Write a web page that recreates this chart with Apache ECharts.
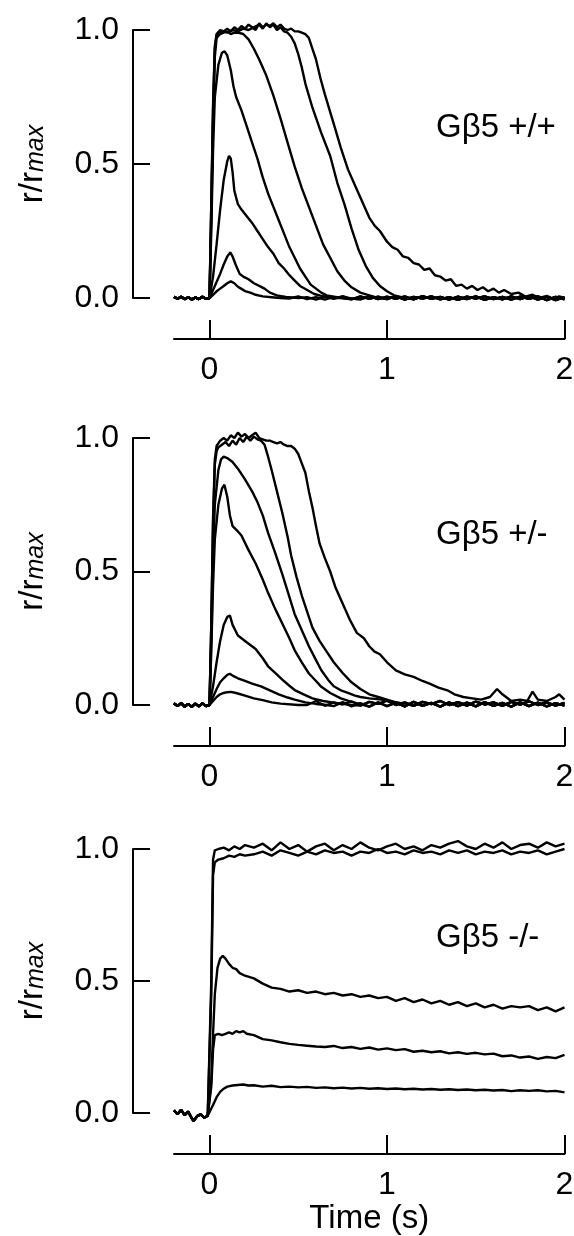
<!DOCTYPE html>
<html>
<head>
<meta charset="utf-8">
<script src="https://cdn.jsdelivr.net/npm/echarts@6/dist/echarts.min.js"></script>
<style>
html,body{margin:0;padding:0;background:#fff;}
#chart{width:574px;height:1236px;}
</style>
</head>
<body>
<div id="chart"></div>
<script>
// ---------- tick labels / panel labels ----------
var xTickValues = [0, 1, 2];
var panelLabels = ['G\u03b25 +/+', 'G\u03b25 +/-', 'G\u03b25 -/-'];
var xAxisName = 'Time (s)';

// ---------- shared baselines (t<0) ----------
var base1 = [[-0.2,0.004],[-0.18,-0.003],[-0.16,0.005],[-0.14,-0.004],[-0.12,0.003],[-0.10,-0.006],[-0.08,0.002],[-0.06,-0.004],[-0.04,0.005],[-0.02,-0.003],[-0.01,0.002]];
var base2 = [[-0.2,0.006],[-0.18,-0.004],[-0.16,0.007],[-0.14,-0.006],[-0.12,0.004],[-0.10,-0.007],[-0.08,0.005],[-0.06,-0.005],[-0.04,0.006],[-0.02,-0.004],[-0.01,0.003]];
var base3 = [[-0.2,0.01],[-0.18,-0.005],[-0.16,0.012],[-0.14,-0.008],[-0.12,0.005],[-0.10,-0.02],[-0.09,-0.03],[-0.07,-0.012],[-0.05,-0.005],[-0.03,-0.018],[-0.02,-0.025],[-0.01,-0.01]];

// ---------- recovered-baseline tails (panels 1,2) ----------
var tailT = [0.30,0.35,0.40,0.45,0.50,0.55,0.60,0.65,0.70,0.75,0.80,0.85,0.90,0.95,1.00,1.05,1.10,1.15,1.20,1.25,1.30,1.35,1.40,1.45,1.50,1.55,1.60,1.65,1.70,1.75,1.80,1.85,1.90,1.95,2.00];
var tailV1a = [0.004,-0.003,0.005,-0.002,0.006,-0.004,0.003,-0.006,0.004,0.0,-0.005,0.006,-0.003,0.005,-0.004,0.007,-0.006,0.004,-0.002,0.006,-0.005,0.003,-0.007,0.005,-0.002,0.006,-0.004,0.004,-0.006,0.005,-0.003,0.006,-0.008,0.004,-0.005];
var tailV1b = [-0.004,0.005,-0.002,0.006,-0.005,0.003,-0.006,0.004,-0.003,0.007,-0.002,-0.005,0.006,-0.004,0.005,-0.003,0.006,-0.005,0.007,-0.003,0.004,-0.006,0.005,-0.004,0.006,-0.007,0.003,-0.005,0.006,-0.004,0.007,-0.006,0.005,-0.008,0.003];
var tailV2a = [0.006,-0.004,0.01,-0.002,0.012,0.0,0.015,-0.003,0.01,0.002,0.014,-0.002,0.012,0.004,0.016,0.0,0.01,-0.003,0.012,0.003,0.015,0.0,0.011,-0.002,0.013,0.002,0.01,-0.003,0.012,0.001,0.014,0.0,0.01,-0.002,0.008];
var tailV2b = [-0.003,0.008,-0.005,0.01,-0.004,0.009,-0.006,0.008,-0.004,0.011,-0.005,0.007,-0.006,0.01,-0.004,0.009,-0.005,0.012,-0.003,0.008,-0.006,0.01,-0.004,0.009,-0.005,0.011,-0.003,0.008,-0.006,0.01,-0.004,0.009,-0.005,0.007,-0.002];

// ---------- Panel 1: Gb5 +/+ ----------
var wtA = [[0,0],[0.02,0.012],[0.04,0.025],[0.06,0.035],[0.08,0.045],[0.1,0.055],[0.12,0.062],[0.14,0.055],[0.16,0.042],[0.18,0.034],[0.2,0.026],[0.23,0.02],[0.26,0.012],[0.3,0.006],[0.35,0.003],[0.4,0.0]];
var wtB = [[0,0],[0.02,0.03],[0.04,0.06],[0.06,0.09],[0.08,0.125],[0.10,0.155],[0.117,0.17],[0.13,0.155],[0.15,0.12],[0.17,0.09],[0.19,0.08],[0.22,0.07],[0.25,0.055],[0.28,0.045],[0.31,0.035],[0.34,0.02],[0.38,0.01],[0.43,0.004],[0.5,0.0]];
var wtC = [[0,0],[0.02,0.08],[0.04,0.2],[0.06,0.33],[0.08,0.44],[0.10,0.51],[0.11,0.53],[0.12,0.52],[0.13,0.47],[0.14,0.40],[0.16,0.35],[0.18,0.33],[0.21,0.305],[0.24,0.28],[0.27,0.25],[0.30,0.22],[0.33,0.19],[0.36,0.165],[0.39,0.13],[0.42,0.11],[0.45,0.085],[0.48,0.065],[0.51,0.045],[0.55,0.03],[0.59,0.015],[0.63,0.008],[0.7,0.0]];
var wtD = [[0,0],[0.01,0.25],[0.02,0.55],[0.03,0.75],[0.05,0.87],[0.07,0.915],[0.085,0.92],[0.10,0.905],[0.12,0.85],[0.135,0.79],[0.15,0.75],[0.18,0.70],[0.21,0.64],[0.24,0.58],[0.27,0.52],[0.30,0.45],[0.33,0.39],[0.36,0.34],[0.39,0.29],[0.42,0.24],[0.45,0.19],[0.48,0.15],[0.51,0.11],[0.54,0.08],[0.57,0.05],[0.60,0.035],[0.63,0.02],[0.66,0.01],[0.70,0.005],[0.75,0.0]];
var wtE = [[0,0],[0.01,0.3],[0.02,0.65],[0.03,0.9],[0.04,0.97],[0.06,0.985],[0.08,0.99],[0.10,0.995],[0.12,0.985],[0.14,0.99],[0.16,0.99],[0.19,0.985],[0.22,0.965],[0.25,0.93],[0.28,0.89],[0.32,0.83],[0.36,0.755],[0.40,0.67],[0.44,0.58],[0.48,0.49],[0.52,0.41],[0.56,0.34],[0.60,0.27],[0.64,0.2],[0.68,0.15],[0.72,0.1],[0.76,0.065],[0.80,0.04],[0.85,0.02],[0.9,0.01],[0.95,0.0]];
var wtF = [[0,0],[0.01,0.35],[0.02,0.7],[0.03,0.93],[0.04,0.98],[0.06,0.99],[0.08,0.995],[0.10,0.99],[0.13,1.0],[0.16,0.995],[0.19,1.005],[0.22,1.0],[0.25,1.01],[0.28,1.02],[0.30,1.005],[0.32,1.025],[0.34,1.01],[0.36,1.02],[0.38,1.0],[0.40,1.01],[0.42,0.995],[0.44,0.99],[0.46,0.975],[0.48,0.95],[0.50,0.91],[0.52,0.86],[0.54,0.80],[0.58,0.71],[0.63,0.615],[0.68,0.53],[0.72,0.43],[0.76,0.35],[0.80,0.26],[0.84,0.18],[0.88,0.12],[0.92,0.075],[0.96,0.045],[1.0,0.025],[1.04,0.01],[1.1,0.0]];
var wtG = [[0,0],[0.01,0.35],[0.02,0.72],[0.03,0.94],[0.04,0.985],[0.06,1.0],[0.08,0.995],[0.10,1.005],[0.12,0.995],[0.14,1.01],[0.16,1.0],[0.18,1.015],[0.20,1.005],[0.22,1.02],[0.24,1.01],[0.26,1.0],[0.28,1.025],[0.30,1.01],[0.32,1.02],[0.34,1.015],[0.36,1.025],[0.38,1.01],[0.40,1.02],[0.42,1.005],[0.44,1.0],[0.46,1.005],[0.48,0.995],[0.50,0.995],[0.52,0.99],[0.54,0.985],[0.56,0.97],[0.58,0.93],[0.60,0.89],[0.625,0.82],[0.65,0.76],[0.70,0.65],[0.74,0.56],[0.78,0.48],[0.82,0.42],[0.86,0.36],[0.90,0.30],[0.93,0.27],[0.96,0.25],[1.0,0.21],[1.03,0.19],[1.06,0.18],[1.09,0.155],[1.12,0.15],[1.15,0.13],[1.18,0.125],[1.21,0.105],[1.24,0.11],[1.27,0.085],[1.30,0.08],[1.33,0.065],[1.36,0.07],[1.39,0.045],[1.42,0.05],[1.45,0.035],[1.48,0.045],[1.51,0.03],[1.54,0.04],[1.57,0.025],[1.60,0.035],[1.63,0.02],[1.66,0.03],[1.70,0.015],[1.74,0.02],[1.78,0.005],[1.82,0.012],[1.86,0.0],[1.90,0.008],[1.94,-0.004],[1.97,0.006],[2.0,0.0]];

// ---------- Panel 2: Gb5 +/- ----------
var hetA = [[0,0],[0.02,0.015],[0.04,0.03],[0.06,0.04],[0.08,0.045],[0.1,0.048],[0.12,0.049],[0.15,0.045],[0.2,0.035],[0.25,0.025],[0.3,0.018],[0.35,0.01],[0.4,0.005],[0.5,0.0]];
var hetB = [[0,0],[0.02,0.03],[0.04,0.06],[0.06,0.085],[0.08,0.10],[0.1,0.113],[0.115,0.117],[0.13,0.11],[0.16,0.10],[0.2,0.09],[0.24,0.08],[0.29,0.07],[0.34,0.055],[0.39,0.04],[0.44,0.028],[0.48,0.02],[0.54,0.01],[0.6,0.004],[0.66,0.0]];
var hetC = [[0,0],[0.02,0.07],[0.04,0.16],[0.06,0.24],[0.08,0.30],[0.1,0.33],[0.115,0.335],[0.13,0.3],[0.16,0.26],[0.2,0.24],[0.26,0.21],[0.3,0.175],[0.33,0.145],[0.37,0.12],[0.41,0.095],[0.45,0.072],[0.48,0.056],[0.53,0.04],[0.58,0.025],[0.64,0.015],[0.71,0.008],[0.8,0.0]];
var hetD = [[0,0],[0.01,0.2],[0.02,0.45],[0.03,0.62],[0.05,0.75],[0.07,0.81],[0.084,0.825],[0.1,0.78],[0.115,0.71],[0.13,0.67],[0.16,0.65],[0.18,0.635],[0.22,0.58],[0.26,0.53],[0.3,0.47],[0.33,0.42],[0.37,0.36],[0.41,0.305],[0.45,0.25],[0.48,0.205],[0.52,0.16],[0.56,0.118],[0.6,0.09],[0.63,0.068],[0.68,0.045],[0.74,0.025],[0.8,0.012],[0.87,0.0]];
var hetE = [[0,0],[0.01,0.25],[0.02,0.55],[0.03,0.75],[0.05,0.88],[0.065,0.92],[0.08,0.93],[0.1,0.925],[0.13,0.91],[0.16,0.885],[0.2,0.845],[0.24,0.8],[0.27,0.76],[0.3,0.71],[0.33,0.645],[0.37,0.57],[0.41,0.49],[0.45,0.405],[0.48,0.34],[0.52,0.28],[0.56,0.22],[0.6,0.168],[0.63,0.13],[0.67,0.093],[0.7,0.07],[0.74,0.055],[0.78,0.045],[0.82,0.035],[0.85,0.03],[0.9,0.025],[0.97,0.02],[1.03,0.012],[1.1,0.005]];
var hetF = [[0,0],[0.01,0.3],[0.02,0.68],[0.03,0.9],[0.04,0.95],[0.05,0.965],[0.07,0.975],[0.09,0.985],[0.11,0.97],[0.13,0.99],[0.15,0.975],[0.17,1.0],[0.19,0.985],[0.21,1.005],[0.23,0.99],[0.25,1.005],[0.27,0.995],[0.29,0.99],[0.31,0.975],[0.33,0.93],[0.35,0.88],[0.38,0.8],[0.41,0.72],[0.44,0.63],[0.46,0.56],[0.49,0.48],[0.52,0.41],[0.55,0.35],[0.58,0.29],[0.62,0.24],[0.66,0.2],[0.7,0.16],[0.75,0.12],[0.8,0.085],[0.85,0.06],[0.9,0.04],[0.95,0.03],[1.0,0.02],[1.05,0.01]];
var hetG = [[0,0],[0.01,0.3],[0.02,0.7],[0.03,0.92],[0.04,0.97],[0.06,0.99],[0.08,1.0],[0.10,0.99],[0.12,1.01],[0.14,1.0],[0.16,1.02],[0.18,1.005],[0.2,1.015],[0.22,1.0],[0.24,1.01],[0.26,1.02],[0.28,1.0],[0.3,0.995],[0.32,0.99],[0.34,0.99],[0.36,0.985],[0.38,0.98],[0.40,0.985],[0.42,0.975],[0.44,0.97],[0.46,0.97],[0.48,0.96],[0.5,0.94],[0.52,0.905],[0.54,0.87],[0.56,0.8],[0.58,0.74],[0.6,0.67],[0.62,0.605],[0.65,0.55],[0.68,0.5],[0.71,0.44],[0.75,0.38],[0.79,0.32],[0.83,0.27],[0.87,0.25],[0.9,0.22],[0.93,0.2],[0.96,0.19],[1.0,0.16],[1.05,0.13],[1.1,0.115],[1.15,0.105],[1.2,0.09],[1.24,0.08],[1.29,0.065],[1.34,0.055],[1.38,0.04],[1.43,0.03],[1.48,0.025],[1.53,0.02],[1.58,0.03],[1.62,0.06],[1.65,0.04],[1.7,0.015],[1.75,0.02],[1.79,0.015],[1.82,0.05],[1.85,0.02],[1.9,0.015],[1.95,0.03],[1.97,0.04],[2.0,0.02]];

// ---------- Panel 3: Gb5 -/- ----------
var koHead1 = [[0.0,-0.01],[0.01,0.5],[0.02,0.96],[0.03,0.995],[0.05,1.0],[0.08,1.005],[0.11,0.995],[0.14,1.01],[0.17,1.0],[0.2,1.015]];
var koHead2 = [[0.0,-0.015],[0.01,0.45],[0.02,0.9],[0.03,0.95],[0.05,0.96],[0.08,0.965],[0.11,0.975],[0.14,0.97],[0.17,0.98],[0.2,0.975]];
var koHead3 = [[0.0,-0.01],[0.01,0.12],[0.02,0.3],[0.03,0.45],[0.045,0.55],[0.06,0.585],[0.075,0.595],[0.09,0.585],[0.11,0.565],[0.13,0.55],[0.15,0.545],[0.17,0.53],[0.2,0.52]];
var koHead4 = [[0.0,-0.01],[0.01,0.1],[0.02,0.24],[0.03,0.295],[0.05,0.3],[0.07,0.295],[0.09,0.3],[0.11,0.305],[0.13,0.3],[0.15,0.31],[0.17,0.305],[0.19,0.31],[0.21,0.3]];
var koHead5 = [[0.0,-0.005],[0.02,0.03],[0.04,0.06],[0.06,0.08],[0.08,0.092],[0.1,0.1],[0.13,0.104],[0.16,0.106],[0.19,0.108],[0.22,0.104]];
var koT = [0.25,0.30,0.35,0.40,0.45,0.50,0.55,0.60,0.65,0.70,0.75,0.80,0.85,0.90,0.95,1.00,1.05,1.10,1.15,1.20,1.25,1.30,1.35,1.40,1.45,1.50,1.55,1.60,1.65,1.70,1.75,1.80,1.85,1.90,1.95,2.00];
var koV1 = [1.005,1.02,0.995,1.025,1.0,1.015,0.99,1.01,1.02,0.995,1.015,1.0,1.025,1.005,0.995,1.01,1.02,1.0,1.01,0.995,1.015,1.005,1.02,1.03,1.01,1.0,1.02,1.005,1.025,1.0,1.015,1.02,1.005,1.025,1.01,1.02];
var koV2 = [0.98,0.99,0.975,0.995,0.985,0.975,0.99,0.98,0.995,0.985,0.99,0.975,0.99,0.985,1.0,0.985,0.99,0.98,0.995,0.985,0.99,0.98,0.995,0.985,0.995,0.98,0.99,0.985,0.995,0.98,0.99,0.985,0.995,0.98,0.99,1.0];
var koV3 = [0.51,0.49,0.475,0.47,0.46,0.465,0.455,0.46,0.45,0.455,0.445,0.45,0.44,0.445,0.435,0.44,0.425,0.435,0.42,0.43,0.415,0.425,0.41,0.42,0.405,0.415,0.4,0.41,0.395,0.405,0.4,0.405,0.39,0.4,0.385,0.4];
var koV4 = [0.295,0.28,0.275,0.268,0.262,0.258,0.255,0.252,0.25,0.254,0.246,0.25,0.243,0.248,0.24,0.245,0.238,0.242,0.232,0.236,0.23,0.234,0.226,0.23,0.224,0.228,0.222,0.225,0.215,0.218,0.21,0.214,0.205,0.212,0.208,0.22];
var koV5 = [0.105,0.1,0.103,0.098,0.1,0.097,0.099,0.095,0.097,0.094,0.096,0.093,0.095,0.092,0.094,0.091,0.093,0.09,0.092,0.089,0.091,0.088,0.09,0.087,0.089,0.086,0.088,0.085,0.087,0.083,0.086,0.084,0.086,0.082,0.084,0.078];

// ---------- assemble traces ----------
function withTail(base, head, tT, tV) {
  var out = base.concat(head);
  var last = head[head.length - 1][0];
  if (tT) {
    for (var i = 0; i < tT.length; i++) {
      if (tT[i] > last + 1e-9) out.push([tT[i], tV[i]]);
    }
  }
  return out;
}
var panelTraces = [
  [withTail(base1, wtA, tailT, tailV1a), withTail(base1, wtB, tailT, tailV1b), withTail(base1, wtC, tailT, tailV1a),
   withTail(base1, wtD, tailT, tailV1b), withTail(base1, wtE, tailT, tailV1a), withTail(base1, wtF, tailT, tailV1b),
   withTail(base1, wtG, null, null)],
  [withTail(base2, hetA, tailT, tailV2a), withTail(base2, hetB, tailT, tailV2b), withTail(base2, hetC, tailT, tailV2a),
   withTail(base2, hetD, tailT, tailV2b), withTail(base2, hetE, tailT, tailV2a), withTail(base2, hetF, tailT, tailV2b),
   withTail(base2, hetG, null, null)],
  [withTail(base3, koHead1, koT, koV1), withTail(base3, koHead2, koT, koV2), withTail(base3, koHead3, koT, koV3),
   withTail(base3, koHead4, koT, koV4), withTail(base3, koHead5, koT, koV5)]
];

// ---------- layout ----------
var FONT = '"Liberation Sans", Arial, Helvetica, sans-serif';
var gridBoxes = [{top: 30, height: 268}, {top: 438, height: 267}, {top: 849, height: 264}];
var labelTops = [111, 518, 921];

var grids = [], xAxes = [], yAxes = [], series = [], titles = [];
for (var p = 0; p < 3; p++) {
  grids.push({left: 174, width: 390.5, top: gridBoxes[p].top, height: gridBoxes[p].height,
              containLabel: false, outerBoundsMode: 'none'});
  xAxes.push({
    gridIndex: p, type: 'value', min: -0.2, max: 2, position: 'bottom', offset: 41,
    axisLine: {show: true, onZero: false, lineStyle: {color: '#000', width: 2}},
    axisTick: {show: true, inside: true, length: 19, customValues: xTickValues, lineStyle: {color: '#000', width: 2}},
    axisLabel: {show: true, customValues: xTickValues, margin: 15, fontSize: 32, color: '#000', fontFamily: FONT,
                formatter: function (v) { return String(Math.round(v)); }},
    splitLine: {show: false},
    name: p === 2 ? xAxisName : '', nameLocation: 'middle', nameGap: 48,
    nameTextStyle: {fontSize: 33, color: '#000', fontFamily: FONT}
  });
  yAxes.push({
    gridIndex: p, type: 'value', min: 0, max: 1, interval: 0.5, position: 'left', offset: 41,
    axisLine: {show: true, onZero: false, lineStyle: {color: '#000', width: 2}},
    axisTick: {show: true, inside: true, length: 17, lineStyle: {color: '#000', width: 2}},
    axisLabel: {show: true, margin: 14, fontSize: 32, color: '#000', fontFamily: FONT,
                formatter: function (v) { return v.toFixed(1); }},
    splitLine: {show: false},
    name: '{a|r/r}{b|max}', nameLocation: 'middle', nameGap: 84, nameRotate: 90,
    nameTextStyle: {
      color: '#000', fontFamily: FONT,
      rich: {
        a: {fontSize: 33, lineHeight: 33, verticalAlign: 'top', color: '#000', fontFamily: FONT},
        b: {fontSize: 25, lineHeight: 25, fontStyle: 'italic', verticalAlign: 'bottom', padding: [21, 0, 0, 0], color: '#000', fontFamily: FONT}
      }
    }
  });
  titles.push({
    text: panelLabels[p], left: 436, top: labelTops[p], padding: 0,
    textStyle: {fontSize: 33, fontWeight: 'normal', color: '#000', fontFamily: FONT}
  });
  panelTraces[p].forEach(function (d) {
    series.push({
      type: 'line', xAxisIndex: p, yAxisIndex: p, data: d, symbol: 'none', showSymbol: false,
      clip: false, silent: true, smooth: false,
      lineStyle: {color: '#000', width: 2.4}
    });
  });
}

var chart = echarts.init(document.getElementById('chart'), null, {renderer: 'canvas'});
chart.setOption({
  backgroundColor: '#fff',
  animation: false,
  title: titles,
  grid: grids,
  xAxis: xAxes,
  yAxis: yAxes,
  series: series
});
</script>
</body>
</html>
